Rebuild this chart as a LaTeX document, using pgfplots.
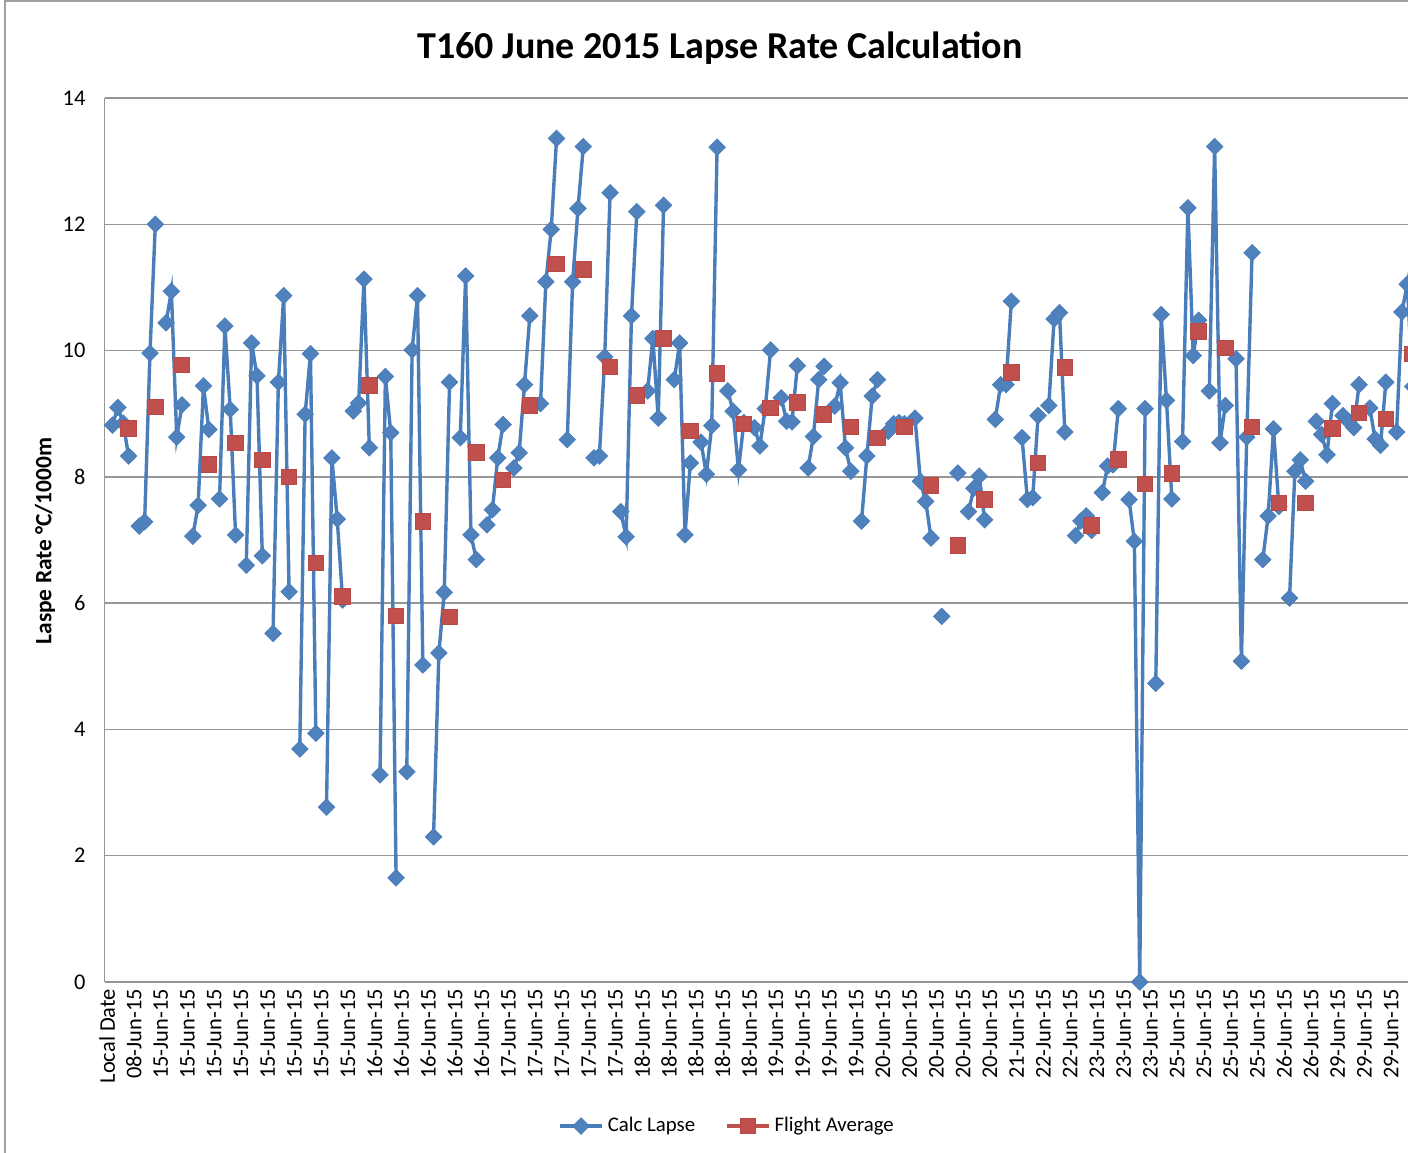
\documentclass[border=0pt]{standalone}
\usepackage{fontspec}
\setmainfont{Carlito}
\usepackage{pgfplots}
\pgfplotsset{compat=1.18}
\definecolor{blueline}{RGB}{74,126,187}
\definecolor{bluefill}{RGB}{79,129,189}
\definecolor{redfill}{RGB}{192,80,77}
\definecolor{redline}{RGB}{185,73,70}
\definecolor{gridgray}{RGB}{150,150,150}
\definecolor{bordergray}{RGB}{160,160,160}
\begin{document}
\begin{tikzpicture}
\begin{axis}[
  at={(52.25pt,85pt)}, anchor=south west,
  scale only axis, width=663.4pt, height=442pt,
  xmin=-0.5, xmax=247.5, ymin=0, ymax=14,
  ytick={0,2,...,14},
  xtick={0,5,...,240},
  xticklabels={Local Date,08-Jun-15,15-Jun-15,15-Jun-15,15-Jun-15,15-Jun-15,15-Jun-15,15-Jun-15,15-Jun-15,15-Jun-15,16-Jun-15,16-Jun-15,16-Jun-15,16-Jun-15,16-Jun-15,17-Jun-15,17-Jun-15,17-Jun-15,17-Jun-15,17-Jun-15,18-Jun-15,18-Jun-15,18-Jun-15,18-Jun-15,18-Jun-15,19-Jun-15,19-Jun-15,19-Jun-15,19-Jun-15,20-Jun-15,20-Jun-15,20-Jun-15,20-Jun-15,20-Jun-15,21-Jun-15,22-Jun-15,22-Jun-15,23-Jun-15,23-Jun-15,23-Jun-15,25-Jun-15,25-Jun-15,25-Jun-15,25-Jun-15,26-Jun-15,26-Jun-15,29-Jun-15,29-Jun-15,29-Jun-15},
  axis x line*=bottom, axis y line*=left,
  axis line style={draw=gridgray, line width=0.75pt, -},
  major tick length=0pt,
  ymajorgrids, grid style={draw=gridgray, line width=0.75pt},
  tick label style={font=\fontsize{11.2}{13}\selectfont, text=black},
  /pgf/number format/assume math mode=true,
  yticklabel style={xshift=-6pt},
  xticklabel style={rotate=90, anchor=east},
  unbounded coords=jump,
  legend columns=2,
  legend style={draw=none, fill=none, at={(0.47,-0.163)}, anchor=center,
    font=\fontsize{10.4}{12}\selectfont,
    /tikz/every even column/.append style={column sep=13pt}},
  legend image code/.code={\draw[mark repeat=2,mark phase=2,#1] plot coordinates {(0pt,0pt) (10.5pt,0pt) (21pt,0pt)};},
]
\addplot[blueline, line width=1.7pt, mark=square*, mark size=2.9pt,
  mark options={solid, fill=bluefill, draw=blueline, line width=0.4pt, rotate=45}]
coordinates {
(1,8.82)(2,9.10)(3,8.85)(4,8.33)(5,nan)
(6,7.22)(7,7.29)(8,9.96)(9,12.00)(10,nan)
(11,10.44)(12,10.94)(13,8.63)(14,9.14)(15,nan)
(16,7.06)(17,7.55)(18,9.44)(19,8.75)(20,nan)
(21,7.65)(22,10.39)(23,9.07)(24,7.08)(25,nan)
(26,6.60)(27,10.12)(28,9.60)(29,6.75)(30,nan)
(31,5.52)(32,9.50)(33,10.87)(34,6.18)(35,nan)
(36,3.69)(37,8.99)(38,9.95)(39,3.94)(40,nan)
(41,2.77)(42,8.30)(43,7.33)(44,6.05)(45,nan)
(46,9.04)(47,9.17)(48,11.13)(49,8.46)(50,nan)
(51,3.28)(52,9.59)(53,8.70)(54,1.65)(55,nan)
(56,3.33)(57,10.01)(58,10.87)(59,5.02)(60,nan)
(61,2.30)(62,5.21)(63,6.17)(64,9.50)(65,nan)
(66,8.62)(67,11.18)(68,7.08)(69,6.69)(70,nan)
(71,7.24)(72,7.48)(73,8.30)(74,8.83)(75,nan)
(76,8.14)(77,8.38)(78,9.46)(79,10.55)(80,nan)
(81,9.16)(82,11.09)(83,11.92)(84,13.36)(85,nan)
(86,8.59)(87,11.09)(88,12.25)(89,13.23)(90,nan)
(91,8.30)(92,8.33)(93,9.90)(94,12.50)(95,nan)
(96,7.45)(97,7.05)(98,10.55)(99,12.20)(100,nan)
(101,9.36)(102,10.19)(103,8.93)(104,12.30)(105,nan)
(106,9.54)(107,10.12)(108,7.08)(109,8.22)(110,nan)
(111,8.55)(112,8.04)(113,8.81)(114,13.22)(115,nan)
(116,9.36)(117,9.04)(118,8.11)(119,8.86)(120,nan)
(121,8.78)(122,8.49)(123,9.08)(124,10.01)(125,nan)
(126,9.25)(127,8.88)(128,8.87)(129,9.76)(130,nan)
(131,8.14)(132,8.64)(133,9.54)(134,9.75)(135,nan)
(136,9.12)(137,9.49)(138,8.46)(139,8.09)(140,nan)
(141,7.30)(142,8.33)(143,9.28)(144,9.54)(145,nan)
(146,8.72)(147,8.84)(148,8.86)(149,8.84)(150,nan)
(151,8.93)(152,7.93)(153,7.61)(154,7.03)(155,nan)
(156,5.79)(157,nan)(158,nan)(159,8.06)(160,nan)
(161,7.45)(162,7.82)(163,8.01)(164,7.32)(165,nan)
(166,8.91)(167,9.46)(168,9.46)(169,10.78)(170,nan)
(171,8.62)(172,7.64)(173,7.67)(174,8.97)(175,nan)
(176,9.13)(177,10.50)(178,10.60)(179,8.71)(180,nan)
(181,7.07)(182,7.30)(183,7.38)(184,7.15)(185,nan)
(186,7.75)(187,8.17)(188,8.19)(189,9.08)(190,nan)
(191,7.64)(192,6.98)(193,0)(194,9.08)(195,nan)
(196,4.73)(197,10.57)(198,9.21)(199,7.65)(200,nan)
(201,8.56)(202,12.26)(203,9.92)(204,10.48)(205,nan)
(206,9.36)(207,13.23)(208,8.54)(209,9.13)(210,nan)
(211,9.87)(212,5.08)(213,8.63)(214,11.55)(215,nan)
(216,6.69)(217,7.38)(218,8.76)(219,7.53)(220,nan)
(221,6.08)(222,8.09)(223,8.27)(224,7.93)(225,nan)
(226,8.88)(227,8.67)(228,8.35)(229,9.16)(230,nan)
(231,8.97)(232,8.88)(233,8.78)(234,9.46)(235,nan)
(236,9.09)(237,8.60)(238,8.50)(239,9.50)(240,nan)
(241,8.71)(242,10.61)(243,11.05)(244,9.43)
};
\addlegendentry{Calc Lapse}
\addplot[redfill, line width=1.7pt, mark=square*, mark size=3.9pt,
  mark options={solid, fill=redfill, draw=redline, line width=0.4pt}]
coordinates {
(4,8.77)(5,nan)(9,9.11)(10,nan)(14,9.77)(15,nan)(19,8.20)(20,nan)
(24,8.54)(25,nan)(29,8.27)(30,nan)(34,8.00)(35,nan)(39,6.64)(40,nan)
(44,6.11)(45,nan)(49,9.45)(50,nan)(54,5.80)(55,nan)(59,7.29)(60,nan)
(64,5.78)(65,nan)(69,8.39)(70,nan)(74,7.95)(75,nan)(79,9.13)(80,nan)
(84,11.37)(85,nan)(89,11.29)(90,nan)(94,9.74)(95,nan)(99,9.29)(100,nan)
(104,10.19)(105,nan)(109,8.73)(110,nan)(114,9.64)(115,nan)(119,8.84)(120,nan)
(124,9.09)(125,nan)(129,9.18)(130,nan)(134,8.99)(135,nan)(139,8.79)(140,nan)
(144,8.62)(145,nan)(149,8.79)(150,nan)(154,7.86)(155,nan)(159,6.91)(160,nan)
(164,7.64)(165,nan)(169,9.65)(170,nan)(174,8.22)(175,nan)(179,9.73)(180,nan)
(184,7.23)(185,nan)(189,8.28)(190,nan)(194,7.89)(195,nan)(199,8.05)(200,nan)
(204,10.30)(205,nan)(209,10.04)(210,nan)(214,8.79)(215,nan)(219,7.59)(220,nan)
(224,7.59)(225,nan)(229,8.77)(230,nan)(234,9.01)(235,nan)(239,8.92)(240,nan)
(244,9.95)
};
\addlegendentry{Flight Average}
\end{axis}
\node[font=\fontsize{19}{23}\selectfont\bfseries, anchor=base] at (360pt,546.5pt) {T160 June 2015 Lapse Rate Calculation};
\node[rotate=90, font=\fontsize{11.7}{14}\selectfont\bfseries] at (22.5pt,305.5pt) {Laspe Rate °C/1000m};
\draw[bordergray, line width=1pt] (2.25pt,-5pt) -- (2.25pt,575.5pt) -- (720pt,575.5pt);
\pgfresetboundingbox
\path[use as bounding box] (0,0) rectangle (704pt,576pt);
\end{tikzpicture}
\end{document}
